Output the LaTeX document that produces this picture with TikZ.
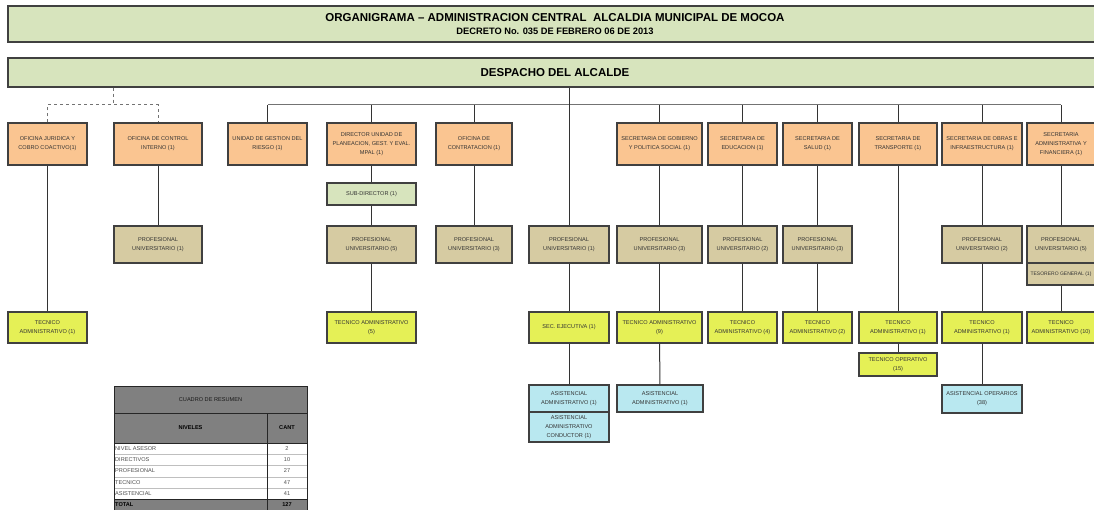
\documentclass[tikz,border=0pt]{standalone}
\usepackage{fontspec}
\setmainfont{Liberation Sans}
\usepackage{tikz}
\usetikzlibrary{positioning,calc}
\definecolor{peach}{RGB}{250,197,145}
\definecolor{tanbox}{RGB}{214,203,162}
\definecolor{limebox}{RGB}{229,240,86}
\definecolor{aquabox}{RGB}{185,232,240}
\definecolor{olivebox}{RGB}{215,228,189}
\definecolor{tablegray}{RGB}{128,128,128}
\newcommand{\tinyfont}{\fontsize{5.6}{8.8}\selectfont}
\tikzset{
  unit/.style={draw=black!75, line width=1.2pt, align=center, inner sep=0pt,
    font=\tinyfont, text=black!80},
  jefe/.style={unit, fill=peach, minimum height=42pt},
  prof/.style={unit, fill=tanbox, minimum height=37pt},
  tec/.style={unit, fill=limebox, minimum height=31pt},
  asis/.style={unit, fill=aquabox, minimum height=27pt},
  banner/.style={draw=black!75, line width=1.2pt, fill=olivebox, align=center,
    minimum width=1094pt, inner sep=0pt},
  link/.style={draw=black!80, line width=1pt},
  bus/.style={draw=black!55, line width=1pt},
  adv/.style={draw=black!55, line width=1pt, dashed},
  celda/.style={font=\tinyfont, inner sep=1pt}
}

\begin{document}
\begin{tikzpicture}[x=1pt,y=-1pt]
    \useasboundingbox (0,0) rectangle (1094,510);
    % title and despacho
    \node[banner, minimum height=36pt] (titulo) at (555,24)
      {{\fontsize{11.5}{12}\selectfont\bfseries ORGANIGRAMA -- ADMINISTRACION CENTRAL\ \ ALCALDIA MUNICIPAL DE MOCOA}\\[1pt]
       {\fontsize{9.3}{10}\selectfont\bfseries DECRETO No. 035 DE FEBRERO 06 DE 2013}};
    \node[banner, minimum height=29pt, font=\fontsize{11.5}{13}\selectfont\bfseries] (desp) at (555,72.5) {DESPACHO DEL ALCALDE};
    % first level
    \node[jefe, minimum width=79pt] (jur) at (47.5,144) {OFICINA JURIDICA Y\\COBRO COACTIVO(1)};
    \node[jefe, minimum width=88pt] (ctrl) at (158,144) {OFICINA DE CONTROL\\INTERNO (1)};
    \node[jefe, minimum width=79pt] (riesgo) at (267.5,144) {UNIDAD DE GESTION DEL\\RIESGO (1)};
    \node[jefe, minimum width=89pt] (dir) at (371.5,144) {DIRECTOR UNIDAD DE\\PLANEACION, GEST. Y EVAL.\\MPAL (1)};
    \node[jefe, minimum width=76pt] (contr) at (474,144) {OFICINA DE\\CONTRATACION (1)};
    \node[jefe, minimum width=85pt] (gob) at (659.5,144) {SECRETARIA DE GOBIERNO\\Y POLITICA SOCIAL (1)};
    \node[jefe, minimum width=69pt] (edu) at (742.5,144) {SECRETARIA DE\\EDUCACION (1)};
    \node[jefe, minimum width=69pt] (salud) at (817.5,144) {SECRETARIA DE\\SALUD (1)};
    \node[jefe, minimum width=78pt] (trans) at (898,144) {SECRETARIA DE\\TRANSPORTE (1)};
    \node[jefe, minimum width=80pt] (obras) at (982,144) {SECRETARIA DE OBRAS E\\INFRAESTRUCTURA (1)};
    \node[jefe, minimum width=68pt] (admfin) at (1061,144) {SECRETARIA\\ADMINISTRATIVA Y\\FINANCIERA (1)};
    \node[unit, fill=olivebox, minimum width=89pt, minimum height=22pt] (subdir) at (371.5,194) {SUB-DIRECTOR (1)};
    % profesional row
    \node[prof, minimum width=88pt] (pctrl) at (158,244.5) {PROFESIONAL\\UNIVERSITARIO (1)};
    \node[prof, minimum width=89pt] (pdir) at (371.5,244.5) {PROFESIONAL\\UNIVERSITARIO (5)};
    \node[prof, minimum width=76pt] (pcontr) at (474,244.5) {PROFESIONAL\\UNIVERSITARIO (3)};
    \node[prof, minimum width=80pt] (pdesp) at (569,244.5) {PROFESIONAL\\UNIVERSITARIO (1)};
    \node[prof, minimum width=85pt] (pgob) at (659.5,244.5) {PROFESIONAL\\UNIVERSITARIO (3)};
    \node[prof, minimum width=69pt] (pedu) at (742.5,244.5) {PROFESIONAL\\UNIVERSITARIO (2)};
    \node[prof, minimum width=69pt] (psal) at (817.5,244.5) {PROFESIONAL\\UNIVERSITARIO (3)};
    \node[prof, minimum width=80pt] (pobr) at (982,244.5) {PROFESIONAL\\UNIVERSITARIO (2)};
    \node[prof, minimum width=68pt] (padm) at (1061,244.5) {PROFESIONAL\\UNIVERSITARIO (5)};
    \node[prof, minimum width=68pt, minimum height=22pt, font=\fontsize{5}{7}\selectfont] (teso) at (1061,274) {TESORERO GENERAL (1)};
    % tecnico row
    \node[tec, minimum width=79pt] (tjur) at (47.5,327.5) {TECNICO\\ADMINISTRATIVO (1)};
    \node[tec, minimum width=89pt] (tdir) at (371.5,327.5) {TECNICO ADMINISTRATIVO\\(5)};
    \node[tec, minimum width=80pt] (sec) at (569,327.5) {SEC. EJECUTIVA (1)};
    \node[tec, minimum width=85pt] (tgob) at (659.5,327.5) {TECNICO ADMINISTRATIVO\\(9)};
    \node[tec, minimum width=69pt] (tedu) at (742.5,327.5) {TECNICO\\ADMINISTRATIVO (4)};
    \node[tec, minimum width=69pt] (tsal) at (817.5,327.5) {TECNICO\\ADMINISTRATIVO (2)};
    \node[tec, minimum width=78pt] (ttra) at (898,327.5) {TECNICO\\ADMINISTRATIVO (1)};
    \node[tec, minimum width=80pt] (tobr) at (982,327.5) {TECNICO\\ADMINISTRATIVO (1)};
    \node[tec, minimum width=68pt] (tadm) at (1061,327.5) {TECNICO\\ADMINISTRATIVO (10)};
    \node[tec, minimum width=78pt, minimum height=23pt] (topera) at (898,364.5) {TECNICO OPERATIVO\\(15)};
    % asistencial row
    \node[asis, minimum width=80pt] (asis1) at (569,398.5) {ASISTENCIAL\\ADMINISTRATIVO (1)};
    \node[asis, minimum width=80pt, minimum height=30pt] (asis2) at (569,427) {ASISTENCIAL\\ADMINISTRATIVO\\CONDUCTOR (1)};
    \node[asis, minimum width=86pt] (asis3) at (660,398.5) {ASISTENCIAL\\ADMINISTRATIVO (1)};
    \node[asis, minimum width=80pt, minimum height=28pt] (aoper) at (982,399) {ASISTENCIAL OPERARIOS\\(38)};
    % connectors
    \coordinate (asesor) at (113,105);
    \coordinate (busL) at (267.5,105);
    \draw[adv] (desp.south -| asesor) -- (asesor);
    \draw[adv] (jur.north) |- (asesor) -| (ctrl.north);
    \draw[bus] (busL) -- (admfin.north |- busL);
    \draw[link] (desp.south -| pdesp.north) -- (pdesp.north);
    \foreach \n in {riesgo,dir,contr,gob,edu,salud,trans,obras,admfin}
      \draw[link] (\n.north) -- (\n.north |- busL);
    \foreach \a/\b in {jur/tjur, ctrl/pctrl, dir/subdir, subdir/pdir, pdir/tdir,
        contr/pcontr, pdesp/sec, sec/asis1, gob/pgob, pgob/tgob, tgob/asis3,
        edu/pedu, pedu/tedu, salud/psal, psal/tsal, trans/ttra, ttra/topera,
        obras/pobr, pobr/tobr, tobr/aoper, admfin/padm, teso/tadm}
      \draw[link] (\a) -- (\b);
    % cuadro de resumen
    \fill[tablegray] (114,386) rectangle (307,443);
    \fill[tablegray] (114,499) rectangle (307,515);
    \foreach \y in {454,465,477,488} \draw[black!25, line width=0.6pt] (114,\y) -- (307,\y);
    \draw[black!85, line width=0.8pt] (114,413) -- (307,413) (114,443) -- (307,443) (114,499) -- (307,499);
    \draw[black!85, line width=1pt] (267,413) -- (267,515);
    \draw[black!85, line width=1pt] (114,386) rectangle (307,515);
    \node[celda, text=black!90] (cuadro) at (210.5,399.5) {CUADRO DE RESUMEN};
    \node[celda, font=\tinyfont\bfseries] (niveles) at (190.5,428) {NIVELES};
    \node[celda, font=\tinyfont\bfseries] (cant) at (287,428) {CANT};
    \foreach \t/\n [count=\i] in {NIVEL ASESOR/2, DIRECTIVOS/10, PROFESIONAL/27, TECNICO/47, ASISTENCIAL/41} {
      \node[celda, anchor=west, text=black!70] (niv\i) at (114,{448.5+(\i-1)*11.2}) {\t};
      \node[celda, text=black!70] (num\i) at (287,{448.5+(\i-1)*11.2}) {\n};
    }
    \node[celda, anchor=west, font=\tinyfont\bfseries] (total) at (114,504.5) {TOTAL};
    \node[celda, font=\tinyfont\bfseries] (numtot) at (287,504.5) {127};
  \end{tikzpicture}
\end{document}
